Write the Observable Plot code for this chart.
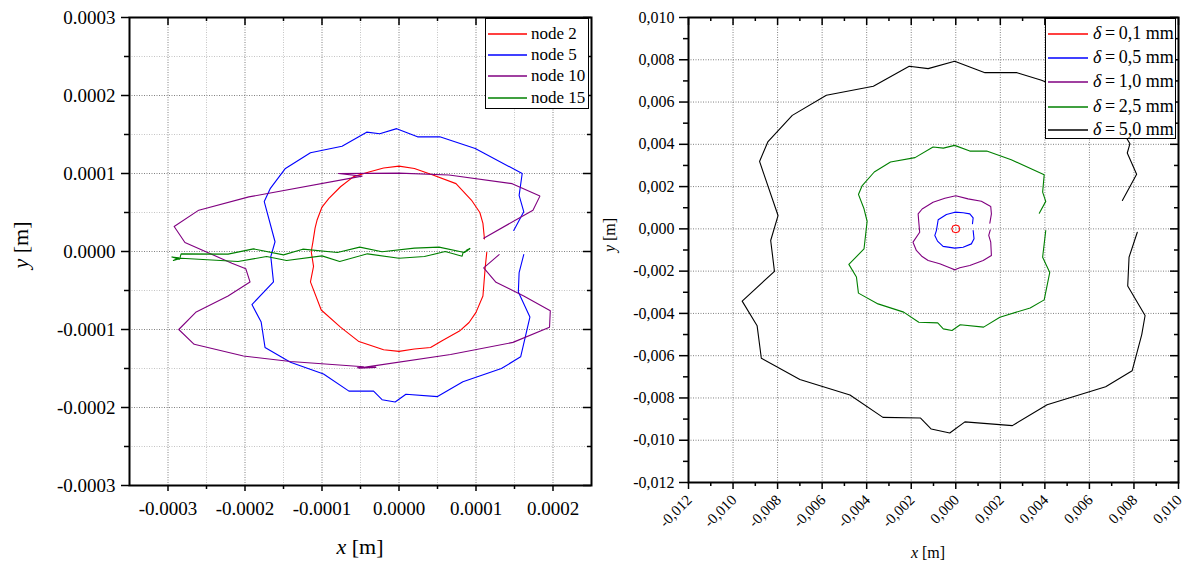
<!DOCTYPE html>
<html><head><meta charset="utf-8">
<script src="https://cdn.jsdelivr.net/npm/d3@7"></script>
<script src="https://cdn.jsdelivr.net/npm/@observablehq/plot@0.6"></script>
<style>
body{margin:0;background:#fff;}
#wrap{position:relative;width:1192px;height:561px;font-family:"Liberation Serif","DejaVu Serif","Times New Roman",serif;color:#000;overflow:hidden;}
.panel{position:absolute;top:0;}
.panel text{font-family:"Liberation Serif","DejaVu Serif","Times New Roman",serif;}
.lbl{position:absolute;white-space:nowrap;transform:translate(-50%,-50%);}
.lbl.rot{transform:translate(-50%,-50%) rotate(-90deg);}
.legend{position:absolute;background:#fff;border:1.5px solid #000;box-sizing:border-box;}
.legend .row{position:absolute;left:0;white-space:nowrap;}
.legend svg{position:absolute;left:0;top:0;}
</style></head><body><div id="wrap"></div>
<script>
// ---------- LEFT PANEL DATA (units: 1e-4 m) ----------
const node2 = [[1.11,0.16],[1.09,0.36],[1.05,0.50],[0.94,0.66],[0.74,0.87],[0.44,0.98],[0.20,1.065],[0.0,1.095],[-0.20,1.07],[-0.39,1.02],[-0.59,0.96],[-0.76,0.83],[-0.91,0.68],[-1.0,0.57],[-1.065,0.40],[-1.09,0.30],[-1.12,0.11],[-1.14,0.0],[-1.11,-0.19],[-1.15,-0.39],[-1.01,-0.75],[-0.76,-0.97],[-0.52,-1.155],[-0.20,-1.26],[0.0,-1.28],[0.20,-1.25],[0.41,-1.23],[0.565,-1.14],[0.785,-1.02],[0.91,-0.91],[1.0,-0.78],[1.09,-0.57],[1.12,-0.20],[1.14,-0.01]];
const node5 = [[1.49,0.27],[1.62,0.51],[1.56,0.72],[1.60,1.0],[0.99,1.32],[0.53,1.47],[0.24,1.47],[-0.03,1.575],[-0.25,1.51],[-0.42,1.53],[-0.74,1.35],[-1.15,1.265],[-1.48,1.06],[-1.67,0.81],[-1.75,0.64],[-1.61,0.125],[-1.665,-0.065],[-1.63,-0.39],[-1.91,-0.68],[-1.79,-0.905],[-1.74,-1.23],[-1.41,-1.42],[-0.98,-1.57],[-0.65,-1.79],[-0.33,-1.79],[-0.22,-1.90],[-0.05,-1.93],[0.09,-1.83],[0.50,-1.86],[0.83,-1.67],[1.33,-1.50],[1.58,-1.35],[1.70,-0.84],[1.55,-0.52],[1.56,-0.27],[1.62,-0.04]];
const node10 = [[1.10,0.17],[1.74,0.53],[1.83,0.71],[1.47,0.87],[0.65,0.98],[0.0,1.005],[-0.785,1.0],[-0.48,0.966],[-1.95,0.70],[-2.60,0.53],[-2.92,0.32],[-2.78,0.115],[-2.17,-0.15],[-1.99,-0.22],[-1.935,-0.39],[-2.22,-0.57],[-2.64,-0.78],[-2.86,-1.0],[-2.66,-1.19],[-2.02,-1.34],[-1.41,-1.41],[-0.46,-1.478],[-0.54,-1.49],[-0.30,-1.485],[-0.52,-1.495],[-0.35,-1.47],[0.67,-1.32],[1.48,-1.165],[1.955,-0.97],[1.965,-0.76],[1.62,-0.57],[1.26,-0.395],[1.10,-0.21],[1.30,-0.04]];
const node15 = [[0.92,0.035],[0.85,-0.013],[0.52,0.056],[0.20,0.043],[-0.22,-0.004],[-0.51,0.056],[-0.80,-0.013],[-1.25,0.03],[-1.50,-0.043],[-1.89,0.034],[-2.22,-0.034],[-2.83,-0.03],[-2.85,-0.10],[-2.95,-0.07],[-2.86,-0.08],[-2.93,-0.115],[-2.83,-0.086],[-2.09,-0.129],[-1.72,-0.065],[-1.46,-0.116],[-1.0,-0.056],[-0.77,-0.129],[-0.41,-0.03],[0.0,-0.086],[0.33,-0.065],[0.60,0.0],[0.82,-0.06],[0.83,-0.02],[0.92,0.04],[0.88,0.02]];
const leftSeries = [
  {name:"node 2", color:"#ff0000", data:node2},
  {name:"node 5", color:"#0000ff", data:node5},
  {name:"node 10", color:"#800080", data:node10},
  {name:"node 15", color:"#008000", data:node15}
];
const leftXTicks = [-0.0003,-0.0002,-0.0001,0,0.0001,0.0002];
const leftXLabels = ["-0.0003","-0.0002","-0.0001","0.0000","0.0001","0.0002"];
const leftXMinor = [-0.00025,-0.00015,-0.00005,0.00005,0.00015];
const leftYTicks = [-0.0003,-0.0002,-0.0001,0,0.0001,0.0002,0.0003];
const leftYLabels = ["-0.0003","-0.0002","-0.0001","0.0000","0.0001","0.0002","0.0003"];
const leftYMinor = [-0.00025,-0.00015,-0.00005,0.00005,0.00015,0.00025];

// ---------- RIGHT PANEL DATA (units: mm) ----------
const d01 = [[0.18,0.0],[0.13,0.14],[0.0,0.18],[-0.13,0.14],[-0.18,0.0],[-0.13,-0.14],[0.0,-0.18],[0.13,-0.14],[0.18,-0.02]];
const d05 = [[0.75,0.24],[0.78,0.52],[0.63,0.71],[0.33,0.76],[-0.04,0.79],[-0.42,0.68],[-0.79,0.43],[-0.87,-0.08],[-0.94,-0.31],[-0.82,-0.58],[-0.57,-0.83],[-0.04,-0.91],[0.33,-0.87],[0.70,-0.71],[0.82,-0.47],[0.78,-0.08]];
const d10 = [[1.53,0.27],[1.60,0.71],[1.57,1.06],[1.15,1.31],[0.55,1.42],[0.0,1.57],[-0.49,1.45],[-1.02,1.26],[-1.51,0.94],[-1.69,0.71],[-1.66,0.31],[-1.62,-0.16],[-1.92,-0.63],[-1.77,-1.02],[-1.51,-1.31],[-1.24,-1.50],[-0.72,-1.65],[-0.27,-1.84],[-0.04,-1.94],[0.18,-1.84],[0.63,-1.73],[1.23,-1.50],[1.60,-1.26],[1.57,-0.63],[1.48,-0.31],[1.55,-0.05]];
const d25 = [[3.75,0.74],[4.04,1.30],[3.90,1.74],[3.97,2.56],[2.49,3.27],[1.39,3.68],[0.63,3.68],[-0.05,3.95],[-0.56,3.82],[-1.02,3.87],[-1.83,3.37],[-2.93,3.16],[-3.66,2.69],[-4.20,2.05],[-4.37,1.63],[-4.12,0.95],[-3.98,0.36],[-4.12,-0.95],[-4.80,-1.68],[-4.46,-2.28],[-4.37,-3.04],[-3.49,-3.55],[-2.34,-3.94],[-1.66,-4.42],[-0.81,-4.45],[-0.56,-4.73],[-0.17,-4.81],[0.20,-4.54],[1.25,-4.65],[1.98,-4.18],[3.34,-3.74],[3.97,-3.36],[4.22,-2.06],[3.90,-1.34],[4.04,-0.08]];
const d50 = [[7.48,1.34],[8.12,2.58],[7.70,3.59],[7.82,4.03],[7.5,4.6],[6.6,5.5],[5.3,6.4],[3.85,7.03],[2.75,7.39],[1.31,7.39],[-0.05,7.93],[-1.24,7.58],[-2.09,7.69],[-3.70,6.75],[-5.81,6.32],[-7.34,5.37],[-8.44,4.11],[-8.81,3.19],[-7.98,0.63],[-8.31,-0.55],[-8.14,-2.01],[-9.59,-3.42],[-8.92,-4.58],[-8.73,-6.12],[-7.00,-7.13],[-4.75,-7.86],[-3.27,-8.92],[-1.58,-8.95],[-1.10,-9.47],[-0.27,-9.66],[0.41,-9.13],[2.54,-9.31],[4.10,-8.32],[6.73,-7.47],[7.92,-6.71],[8.35,-5.0],[8.50,-4.10],[7.72,-2.70],[7.78,-1.34],[8.15,-0.16]];
const rightSeries = [
  {name:"0,1 mm", color:"#ff0000", data:d01},
  {name:"0,5 mm", color:"#0000ff", data:d05},
  {name:"1,0 mm", color:"#800080", data:d10},
  {name:"2,5 mm", color:"#008000", data:d25},
  {name:"5,0 mm", color:"#000000", data:d50}
];
const rightTicks = [-0.012,-0.010,-0.008,-0.006,-0.004,-0.002,0,0.002,0.004,0.006,0.008,0.010];
const rightLabels = ["-0,012","-0,010","-0,008","-0,006","-0,004","-0,002","0,000","0,002","0,004","0,006","0,008","0,010"];
const rightMinor = [-0.011,-0.009,-0.007,-0.005,-0.003,-0.001,0.001,0.003,0.005,0.007,0.009];

const wrap = document.getElementById("wrap");
const FONT = "'Liberation Serif', 'DejaVu Serif', 'Times New Roman', serif";

function panel(cfg) {
  const fw = cfg.w - cfg.ml - cfg.mr, fh = cfg.h - cfg.mt - cfg.mb;
  const fmtX = d => cfg.xLabels[cfg.xTicks.indexOf(d)];
  const fmtY = d => cfg.yLabels[cfg.yTicks.indexOf(d)];
  const marks = [];
  if (cfg.xMinorGrid) {
    marks.push(Plot.gridX(cfg.xMinor, {stroke:"#c4c4c4", strokeOpacity:1, strokeDasharray:"1,1.5"}));
    marks.push(Plot.gridY(cfg.yMinor, {stroke:"#c4c4c4", strokeOpacity:1, strokeDasharray:"1,1.5"}));
  }
  marks.push(Plot.gridX(cfg.xTicks, {stroke:"#808080", strokeOpacity:1, strokeDasharray:"1,1.5"}));
  marks.push(Plot.gridY(cfg.yTicks, {stroke:"#808080", strokeOpacity:1, strokeDasharray:"1,1.5"}));
  for (const s of cfg.series) {
    marks.push(Plot.line(s.data, {x: d => d[0]*cfg.unit, y: d => d[1]*cfg.unit, stroke: s.color, strokeWidth: 1.1}));
  }
  // bottom: tick marks and labels as separate axis marks
  marks.push(Plot.axisX(cfg.xTicks, {anchor:"bottom", tickSize:cfg.bTick, tickFormat:()=>"", label:null, strokeWidth:1.5}));
  marks.push(Plot.axisX(cfg.xTicks, {anchor:"bottom", tickSize:0, tickPadding:cfg.bTick + cfg.bPad, tickFormat:fmtX, tickRotate:cfg.rot, dx:cfg.bdx, dy:cfg.bdy, fontSize:cfg.bfs, fontFamily:FONT, label:null}));
  marks.push(Plot.axisX(cfg.xMinor, {anchor:"bottom", tickSize:4, tickFormat:()=>"", label:null, strokeWidth:1.5}));
  marks.push(Plot.axisY(cfg.yTicks, {anchor:"left", tickSize:cfg.lTick, tickPadding:cfg.lPad, tickFormat:fmtY, fontSize:cfg.fs, fontFamily:FONT, label:null, strokeWidth:1.5}));
  marks.push(Plot.axisY(cfg.yMinor, {anchor:"left", tickSize:5, tickFormat:()=>"", label:null, strokeWidth:1.5}));
  // mirrored inward ticks on top and right
  marks.push(Plot.tickX(cfg.xTicks, {x:d=>d, insetBottom: fh-8, stroke:"#000", strokeWidth:1.5}));
  marks.push(Plot.tickX(cfg.xMinor, {x:d=>d, insetBottom: fh-4, stroke:"#000", strokeWidth:1.5}));
  marks.push(Plot.tickY(cfg.yTicks, {y:d=>d, insetLeft: fw-8, stroke:"#000", strokeWidth:1.5}));
  marks.push(Plot.tickY(cfg.yMinor, {y:d=>d, insetLeft: fw-4, stroke:"#000", strokeWidth:1.5}));
  marks.push(Plot.frame({stroke:"#000", strokeWidth:2}));
  const svg = Plot.plot({
    width: cfg.w, height: cfg.h,
    marginLeft: cfg.ml, marginRight: cfg.mr, marginTop: cfg.mt, marginBottom: cfg.mb,
    x: {domain: cfg.xDomain, label: null},
    y: {domain: cfg.yDomain, label: null},
    style: {fontFamily: FONT, fontSize: cfg.fs + "px", color: "#000", background: "transparent", overflow: "visible"},
    marks
  });
  svg.classList.add("panel");
  svg.style.left = cfg.left + "px";
  wrap.appendChild(svg);
}

panel({left:0, w:600, h:561, ml:129, mr:9, mt:17, mb:76, unit:1e-4,
  xDomain:[-0.00035,0.00025], yDomain:[-0.0003,0.0003],
  xTicks:leftXTicks, xLabels:leftXLabels, xMinor:leftXMinor,
  yTicks:leftYTicks, yLabels:leftYLabels, yMinor:leftYMinor,
  xMinorGrid:true, series:leftSeries, fs:19, bfs:19, bTick:6, bPad:10, lTick:8, lPad:6, rot:0, bdx:0, bdy:0});

panel({left:600, w:592, h:561, ml:88, mr:14, mt:17, mb:79, unit:1e-3,
  xDomain:[-0.012,0.010], yDomain:[-0.012,0.010],
  xTicks:rightTicks, xLabels:rightLabels, xMinor:rightMinor,
  yTicks:rightTicks, yLabels:rightLabels, yMinor:rightMinor,
  xMinorGrid:false, series:rightSeries, fs:16, bfs:15, bTick:7, bPad:8, lTick:9, lPad:5, rot:-45, bdx:1, bdy:0});

// ---------- axis titles ----------
function label(html, x, y, size, rot) {
  const d = document.createElement("div");
  d.className = "lbl" + (rot ? " rot" : "");
  d.style.left = x + "px"; d.style.top = y + "px"; d.style.fontSize = size + "px";
  d.innerHTML = html;
  wrap.appendChild(d);
}
label("<i>x</i> [m]", 360, 547, 22, false);
label("<i>y</i> [m]", 21, 245, 22, true);
label("<i>x</i> [m]", 928, 553, 16, false);
label("<i>y</i> [m]", 610, 235, 16, true);

// ---------- legends ----------
function legend(series, left, top, w, h, rows, lineX2, textX, fs, prefix) {
  const box = document.createElement("div");
  box.className = "legend";
  Object.assign(box.style, {left:left+"px", top:top+"px", width:w+"px", height:h+"px"});
  const ns = "http://www.w3.org/2000/svg";
  const sv = document.createElementNS(ns, "svg");
  sv.setAttribute("width", w); sv.setAttribute("height", h);
  series.forEach((s, i) => {
    const ln = document.createElementNS(ns, "line");
    ln.setAttribute("x1", 2); ln.setAttribute("x2", lineX2);
    ln.setAttribute("y1", rows[i]); ln.setAttribute("y2", rows[i]);
    ln.setAttribute("stroke", s.color); ln.setAttribute("stroke-width", 1.3);
    sv.appendChild(ln);
    const t = document.createElement("div");
    t.className = "row";
    t.style.left = textX + "px"; t.style.top = (rows[i] - fs*0.6) + "px"; t.style.fontSize = fs + "px";
    t.style.lineHeight = (fs*1.2) + "px";
    t.innerHTML = prefix + s.name;
    box.appendChild(t);
  });
  box.appendChild(sv);
  wrap.appendChild(box);
}
legend(leftSeries, 485, 18, 104, 91, [15, 36, 57, 79], 41, 45, 17, "");
legend(rightSeries, 1045, 18, 131, 121, [15, 39, 63, 88, 111], 42, 47, 18, "<i>δ</i>&thinsp;=&thinsp;");
</script>
</body></html>
